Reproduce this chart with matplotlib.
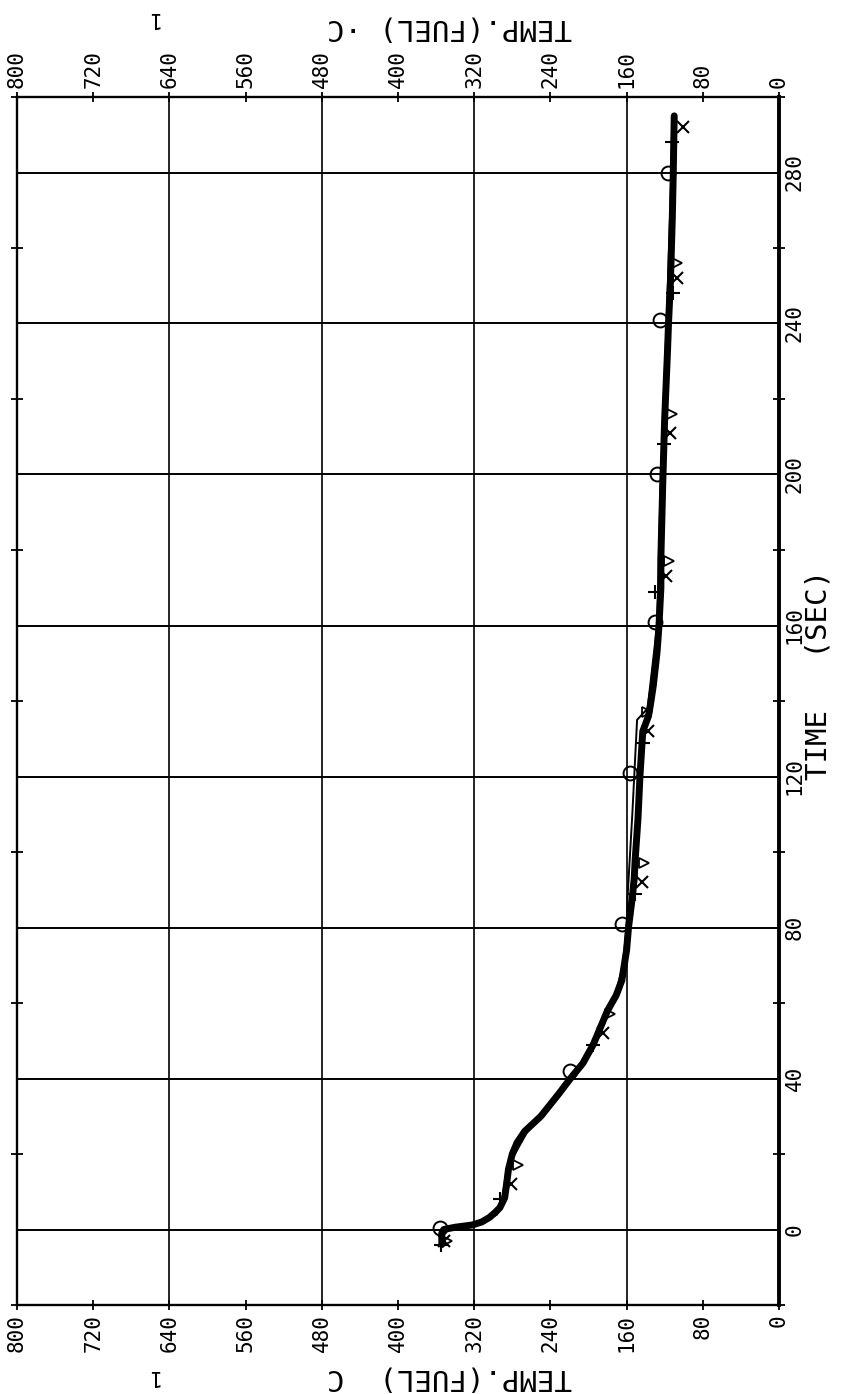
import matplotlib

matplotlib.use("Agg")

import matplotlib.pyplot as plt
from matplotlib.ticker import MultipleLocator

# fuel temperature trace (time in s, temperature in C)
time_main = [-4, -1, 0, 0.6, 1.2, 2, 3.2, 4.5, 5.8, 8.4, 12, 16, 20, 23, 26,
             30, 36, 40, 44, 49, 52, 58, 62, 66, 74, 80, 88, 93, 98, 109, 120,
             132, 136, 139, 144, 153, 160, 170, 178, 198, 215, 233, 240, 251,
             268, 280, 295]
temp_main = [354, 354, 352, 340, 322, 312, 304, 298, 293, 288, 286, 284, 280,
             275, 267, 250, 231, 219, 206, 195, 190, 180, 171, 165, 160, 158,
             154, 152, 151, 148, 146, 143, 137, 135, 132, 128, 126, 124, 124,
             122, 120, 117, 116, 114, 112, 111, 110]

# second trace, only separates from the first between ~60 and ~140 s
time_second = [-4, -0.5, 1, 4, 9, 16, 26, 40, 52, 62, 70, 80, 88, 110, 135,
               138, 160, 200, 240, 280, 295]
temp_second = [356, 356, 318, 296, 290, 286, 264, 216, 188, 172, 164, 160, 159,
               154, 149, 138, 128, 124, 118, 113, 112]

# marker symbols of the individual channels
circle_time = [0.5, 42, 81, 121, 161, 200, 241, 280]
circle_temp = [356, 219, 165, 156, 130, 128, 125, 117]
cross_time = [-3, 12, 52, 92, 132, 173, 211, 252, 292]
cross_temp = [352, 281, 185, 144, 138, 119, 114, 107, 101]
plus_time = [-4, 8, 49, 89, 129, 169, 208, 248, 288]
plus_temp = [355, 293, 195, 151, 143, 130, 121, 111, 112]
tri_time = [-3, 17, 57, 97, 137, 177, 216, 256]
tri_temp = [349, 274, 177, 142, 139, 116, 112, 107]

time_ticks = [0, 40, 80, 120, 160, 200, 240, 280]
temp_ticks = [0, 80, 160, 240, 320, 400, 480, 560, 640, 720, 800]

FONT = "DejaVu Sans Mono"

fig = plt.figure(figsize=(8.43, 13.94), dpi=100)
ax = fig.add_axes([17 / 843, 1 - 1305 / 1394, 762 / 843, 1208 / 1394])

ax.plot(temp_main, time_main, color="black", linewidth=5,
        solid_joinstyle="round", solid_capstyle="round", zorder=3)
ax.plot(temp_second, time_second, color="black", linewidth=1.4, zorder=3)

ax.plot(circle_temp, circle_time, linestyle="none", marker="o", markersize=10,
        markerfacecolor="none", markeredgecolor="black", markeredgewidth=1.4,
        zorder=4)
ax.plot(cross_temp, cross_time, linestyle="none", marker="x", markersize=9,
        color="black", markeredgewidth=1.5, zorder=4)
ax.plot(plus_temp, plus_time, linestyle="none", marker="+", markersize=10,
        color="black", markeredgewidth=1.5, zorder=4)
ax.plot(tri_temp, tri_time, linestyle="none", marker=">", markersize=7,
        markerfacecolor="none", markeredgecolor="black", markeredgewidth=1.3,
        zorder=4)

ax.set_xlim(800, 0)
ax.set_ylim(-20, 300)

ax.set_xticks(temp_ticks)
ax.set_yticks(time_ticks)
ax.yaxis.set_minor_locator(MultipleLocator(20))
ax.set_xticklabels([str(v) for v in temp_ticks], rotation=90,
                   family=FONT, fontsize=15)
ax.set_yticklabels([str(v) for v in time_ticks], rotation=90, va="center",
                   family=FONT, fontsize=15)

ax.tick_params(axis="x", which="both", direction="inout", length=7, width=1.3,
               top=True, bottom=True, labeltop=True, labelbottom=True, pad=3)
ax.tick_params(axis="y", which="major", direction="inout", length=0,
               left=True, right=True, labelleft=False, labelright=True, pad=4)
ax.tick_params(axis="y", which="minor", direction="inout", length=8, width=1.3,
               left=True, right=True)

for v in [640, 480, 320, 160]:
    ax.axvline(v, color="black", linewidth=1.2, zorder=1)
for v in time_ticks:
    ax.axhline(v, color="black", linewidth=1.4, zorder=1)

for side in ["left", "top", "bottom"]:
    ax.spines[side].set_linewidth(1.7)
ax.spines["right"].set_linewidth(2.8)

fig.text(818 / 843, 1 - 675 / 1394, "TIME   (SEC)", rotation=90,
         ha="center", va="center", family=FONT, fontsize=21)
fig.text(450 / 843, 1 - 1378 / 1394, "TEMP.(FUEL)  C", rotation=180,
         ha="center", va="center", family=FONT, fontsize=21)
fig.text(152 / 843, 1 - 1376 / 1394, "1", rotation=180,
         ha="center", va="center", family=FONT, fontsize=15)
fig.text(450 / 843, 1 - 28 / 1394, "TEMP.(FUEL) ·C", rotation=180,
         ha="center", va="center", family=FONT, fontsize=21)
fig.text(152 / 843, 1 - 18 / 1394, "1", rotation=180,
         ha="center", va="center", family=FONT, fontsize=15)

fig.savefig("out.png", dpi=100)
plt.close(fig)
